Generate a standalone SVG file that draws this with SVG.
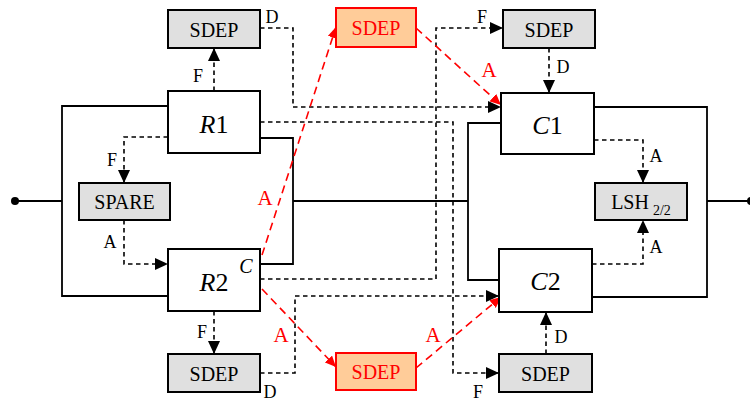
<svg xmlns="http://www.w3.org/2000/svg" width="750" height="403" viewBox="0 0 750 403" font-family="'Liberation Serif', 'DejaVu Serif', serif">
<defs>
<style>
.box{fill:#fff;stroke:#000;stroke-width:2}
.gbox{fill:#e0e0e0;stroke:#000;stroke-width:2}
.rbox{fill:#ffcc99;stroke:#ff0000;stroke-width:2}
text{font-family:'Liberation Serif','DejaVu Serif',serif}
.t{font-size:20px;text-anchor:middle;fill:#000}
.big{font-size:26px;text-anchor:middle;fill:#000}
.lbl{font-size:18px;text-anchor:middle;fill:#000}
.rl{font-size:21px;text-anchor:middle;fill:#ff0000}
.rt{font-size:20px;text-anchor:middle;fill:#ff0000}
.solid{fill:none;stroke:#000;stroke-width:1.8}
.dash{fill:none;stroke:#000;stroke-width:1.6;stroke-dasharray:4.5,3.5;marker-end:url(#ah)}
.rdash{fill:none;stroke:#ff0000;stroke-width:1.6;stroke-dasharray:8,5;marker-end:url(#rah)}
</style>
<marker id="ah" markerUnits="userSpaceOnUse" markerWidth="14" markerHeight="12" refX="13" refY="6" orient="auto">
<path d="M0,0 L13,6 L0,12 Z" fill="#000"/>
</marker>
<marker id="rah" markerUnits="userSpaceOnUse" markerWidth="12" markerHeight="10" refX="11" refY="5" orient="auto">
<path d="M0,0 L11,5 L0,10 Z" fill="#ff0000"/>
</marker>
</defs>

<g id="connectors">
<circle cx="15" cy="201" r="4" fill="#000"/>
<path class="solid" d="M15,201 H62"/>
<path class="solid" d="M168,106 H62 V296 H168"/>
<path class="solid" d="M260,138 H293 V264 H260"/>
<path class="solid" d="M293,201 H468"/>
<path class="solid" d="M501,123 H468 V280 H499"/>
<path class="solid" d="M594,107 H707 V297 H592"/>
<path class="solid" d="M707,201 H750"/>
<circle cx="751" cy="201" r="4" fill="#000"/>

<path class="dash" d="M214,91 V48"/>
<path class="dash" d="M168,137 H124 V183"/>
<path class="dash" d="M124,220 V264 H168"/>
<path class="dash" d="M214,311 V354"/>
<path class="dash" d="M260,28 H293 V107 H501"/>
<path class="dash" d="M260,122 H453 V373 H499"/>
<path class="dash" d="M260,279 H436 V28 H503"/>
<path class="dash" d="M260,373 H295 V296 H499"/>
<path class="dash" d="M549,48 V93"/>
<path class="dash" d="M594,140 H643 V183"/>
<path class="dash" d="M592,264 H643 V220"/>
<path class="dash" d="M546,354 V312"/>

<path class="rdash" d="M262,255 L336,27"/>
<path class="rdash" d="M416,28 L501,105"/>
<path class="rdash" d="M262,289 L336,367"/>
<path class="rdash" d="M416,368 L501,297"/>

<text class="lbl" x="272" y="23">D</text>
<text class="lbl" x="198" y="82">F</text>
<text class="lbl" x="112" y="166">F</text>
<text class="lbl" x="110" y="248">A</text>
<text class="lbl" x="202" y="338">F</text>
<text class="lbl" x="270" y="398">D</text>
<text class="lbl" x="482" y="23">F</text>
<text class="lbl" x="563" y="73">D</text>
<text class="lbl" x="656" y="162">A</text>
<text class="lbl" x="656" y="253">A</text>
<text class="lbl" x="561" y="343">D</text>
<text class="lbl" x="478" y="398">F</text>
<text class="rl" x="265" y="205">A</text>
<text class="rl" x="489" y="77">A</text>
<text class="rl" x="281" y="342">A</text>
<text class="rl" x="433" y="342">A</text>
</g>

<g id="sdep_tl"><rect class="gbox" x="168" y="10" width="92" height="38"/><text class="t" x="214" y="36.5">SDEP</text></g>
<g id="r1"><rect class="box" x="168" y="91" width="92" height="62"/><text class="big" x="214" y="132.5"><tspan font-style="italic">R</tspan>1</text></g>
<g id="spare"><rect class="gbox" x="79" y="183" width="91" height="37"/><text class="t" x="124.5" y="209">SPARE</text></g>
<g id="r2"><rect class="box" x="168" y="249" width="92" height="62"/><text class="big" x="214" y="291"><tspan font-style="italic">R</tspan>2</text><text class="t" x="246" y="273" font-style="italic" font-size="18">C</text></g>
<g id="sdep_bl"><rect class="gbox" x="168" y="354" width="92" height="38"/><text class="t" x="214" y="380.5">SDEP</text></g>
<g id="sdep_red_top"><rect class="rbox" x="336" y="8" width="80" height="39"/><text class="rt" x="376" y="35">SDEP</text></g>
<g id="sdep_red_bottom"><rect class="rbox" x="336" y="353" width="80" height="37"/><text class="rt" x="376" y="379">SDEP</text></g>
<g id="sdep_tr"><rect class="gbox" x="503" y="10" width="92" height="38"/><text class="t" x="549" y="36.5">SDEP</text></g>
<g id="c1"><rect class="box" x="501" y="93" width="93" height="61"/><text class="big" x="547.5" y="133.5"><tspan font-style="italic">C</tspan>1</text></g>
<g id="lsh"><rect class="gbox" x="595" y="183" width="92" height="37"/><text class="t" x="641" y="209"><tspan>LSH</tspan><tspan font-size="14" dx="4" dy="6">2/2</tspan></text></g>
<g id="c2"><rect class="box" x="499" y="249" width="93" height="63"/><text class="big" x="545.5" y="290"><tspan font-style="italic">C</tspan>2</text></g>
<g id="sdep_br"><rect class="gbox" x="499" y="354" width="93" height="38"/><text class="t" x="545.5" y="380.5">SDEP</text></g>
</svg>
